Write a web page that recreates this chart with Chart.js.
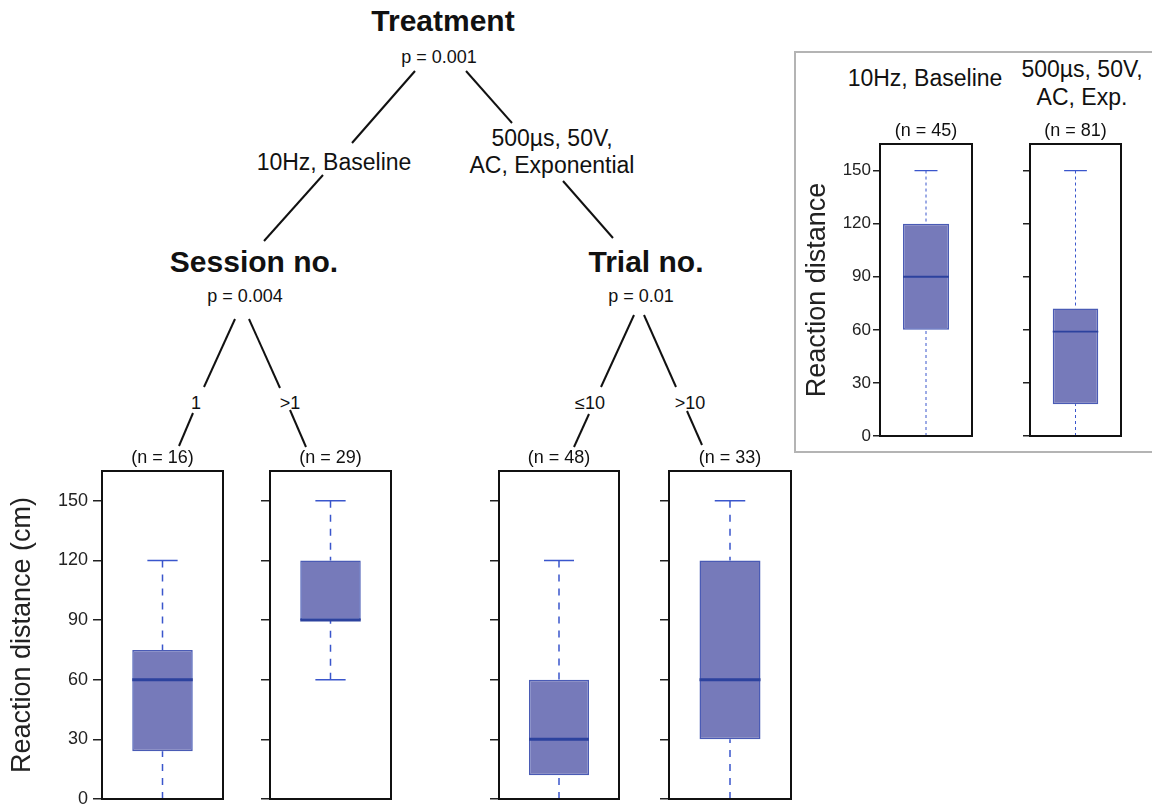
<!DOCTYPE html>
<html>
<head>
<meta charset="utf-8">
<script src="https://cdn.jsdelivr.net/npm/chart.js@4.4.1/dist/chart.umd.min.js"></script>
<style>
  body { margin: 0; background: #fff; font-family: "Liberation Sans", Arial, sans-serif; }
  #page { position: relative; width: 1152px; height: 805px; overflow: hidden; background: #fff; }
  .panel { position: absolute; }
  .lbl { position: absolute; transform: translate(-50%, -50%); white-space: nowrap; line-height: 1; color: #111; text-align: center; }
  .big { font-size: 30px; font-weight: bold; }
  .mid { font-size: 23px; }
  .sm { font-size: 18px; }
  #inset { position: absolute; left: 794px; top: 51px; width: 380px; height: 402px; border: 2px solid #b4b4b4; box-sizing: border-box; }
  svg { position: absolute; left: 0; top: 0; }
</style>
</head>
<body>
<div id="page">
  <div id="inset"></div>

  <svg width="1152" height="805" stroke="#111" stroke-width="2">
    <line x1="415" y1="71" x2="352" y2="143"/>
    <line x1="466" y1="71" x2="512" y2="123"/>
    <line x1="323" y1="175" x2="264" y2="241"/>
    <line x1="563" y1="181" x2="613" y2="238"/>
    <line x1="235" y1="319" x2="204" y2="387"/>
    <line x1="249" y1="319" x2="280" y2="388"/>
    <line x1="193" y1="413" x2="179" y2="446"/>
    <line x1="290" y1="410" x2="306" y2="447"/>
    <line x1="634" y1="315" x2="601" y2="387"/>
    <line x1="644" y1="315" x2="676" y2="387"/>
    <line x1="589" y1="414" x2="574" y2="447"/>
    <line x1="687" y1="411" x2="702" y2="445"/>
  </svg>

  <div class="lbl big" style="left:443px; top:21px;">Treatment</div>
  <div class="lbl sm" style="left:439px; top:57px;">p = 0.001</div>
  <div class="lbl mid" style="left:334px; top:162px;">10Hz, Baseline</div>
  <div class="lbl mid" style="left:552px; top:152px; line-height:27px;">500µs, 50V,<br>AC, Exponential</div>
  <div class="lbl big" style="left:254px; top:262px;">Session no.</div>
  <div class="lbl sm" style="left:245px; top:296px;">p = 0.004</div>
  <div class="lbl big" style="left:646px; top:262px;">Trial no.</div>
  <div class="lbl sm" style="left:641px; top:296px;">p = 0.01</div>
  <div class="lbl sm" style="left:196px; top:403px;">1</div>
  <div class="lbl sm" style="left:290px; top:403px;">&gt;1</div>
  <div class="lbl sm" style="left:590px; top:403px;">≤10</div>
  <div class="lbl sm" style="left:690px; top:403px;">&gt;10</div>
  <div class="lbl mid" style="left:925px; top:78px;">10Hz, Baseline</div>
  <div class="lbl mid" style="left:1082px; top:83px; line-height:28px;">500µs, 50V,<br>AC, Exp.</div>

  <div class="panel" style="left:6px; top:447px; width:229px; height:364px;"><canvas id="p0"></canvas></div>
  <div class="panel" style="left:258px; top:447px; width:145px; height:364px;"><canvas id="p1"></canvas></div>
  <div class="panel" style="left:487px; top:447px; width:144px; height:364px;"><canvas id="p2"></canvas></div>
  <div class="panel" style="left:657px; top:447px; width:146px; height:364px;"><canvas id="p3"></canvas></div>
  <div class="panel" style="left:801px; top:120px; width:183px; height:328px;"><canvas id="p4"></canvas></div>
  <div class="panel" style="left:1018px; top:120px; width:115px; height:328px;"><canvas id="p5"></canvas></div>
</div>

<script>
// one entry per box: 4 tree leaves, then the 2 inset boxes
const groupLabels = ["(n = 16)", "(n = 29)", "(n = 48)", "(n = 33)", "(n = 45)", "(n = 81)"];
const whiskerLow = [0, 60, 0, 0, 0, 0];
const quartile1 = [24, 90, 12, 30, 60, 18];
const medians = [60, 90, 30, 60, 90, 59];
const quartile3 = [75, 120, 60, 120, 120, 72];
const whiskerHigh = [120, 150, 120, 150, 150, 150];
const yTicks = [0, 30, 60, 90, 120, 150];
const yMax = 165;

const boxFill = "#767aba";
const boxEdge = "#4a5bb5";
const medianColor = "#2c429e";
const whiskerColor = "#3a56cc";

const boxWhisker = {
  id: "boxWhisker",
  afterDatasetsDraw(chart, args, opts) {
    const i = opts.index;
    const bar = chart.getDatasetMeta(0).data[0];
    const y = chart.scales.y;
    const ctx = chart.ctx;
    const x = bar.x;
    const half = bar.width / 2;
    const cap = half * opts.cap;

    ctx.save();
    ctx.strokeStyle = whiskerColor;
    ctx.lineWidth = opts.whiskerWidth;
    ctx.setLineDash(opts.dash);
    ctx.beginPath();
    ctx.moveTo(x, y.getPixelForValue(whiskerHigh[i]));
    ctx.lineTo(x, y.getPixelForValue(quartile3[i]));
    ctx.moveTo(x, y.getPixelForValue(whiskerLow[i]));
    ctx.lineTo(x, y.getPixelForValue(quartile1[i]));
    ctx.stroke();

    ctx.setLineDash([]);
    ctx.lineWidth = opts.capWidth;
    ctx.beginPath();
    [whiskerHigh[i], whiskerLow[i]].forEach(v => {
      const py = y.getPixelForValue(v);
      ctx.moveTo(x - cap, py);
      ctx.lineTo(x + cap, py);
    });
    ctx.stroke();

    ctx.strokeStyle = medianColor;
    ctx.lineWidth = opts.medianWidth;
    const my = y.getPixelForValue(medians[i]);
    ctx.beginPath();
    ctx.moveTo(x - half, my);
    ctx.lineTo(x + half, my);
    ctx.stroke();
    ctx.restore();
  },
  afterDraw(chart) {
    // black frame round each panel
    const a = chart.chartArea;
    const ctx = chart.ctx;
    ctx.save();
    ctx.strokeStyle = "#111";
    ctx.lineWidth = 2;
    ctx.strokeRect(a.left, a.top, a.right - a.left, a.bottom - a.top);
    ctx.restore();
  }
};

function makePanel(i, cfg) {
  const ctx = document.getElementById("p" + i);
  const inset = cfg.inset;
  return new Chart(ctx, {
    type: "bar",
    data: {
      labels: [groupLabels[i]],
      datasets: [{
        data: [[quartile1[i], quartile3[i]]],
        backgroundColor: boxFill,
        borderColor: boxEdge,
        borderWidth: 1.5,
        borderSkipped: false,
        categoryPercentage: 1,
        barPercentage: 0.5
      }]
    },
    options: {
      responsive: true,
      maintainAspectRatio: false,
      animation: false,
      layout: { padding: { top: 0, right: 12, bottom: 12, left: 0 } },
      plugins: {
        legend: { display: false },
        tooltip: { enabled: false },
        title: {
          display: true,
          text: groupLabels[i],
          fullSize: false,
          color: "#111",
          font: { family: "Liberation Sans, Arial", size: 18, weight: "normal", lineHeight: 1.2 },
          padding: { top: 0, bottom: 2.4 }
        },
        boxWhisker: {
          index: i,
          cap: 0.5,
          dash: inset ? [3, 3] : [7, 7],
          whiskerWidth: inset ? 1 : 1.5,
          capWidth: inset ? 1.2 : 1.5,
          medianWidth: inset ? 1.8 : 3
        }
      },
      scales: {
        x: { display: false },
        y: {
          min: 0,
          max: yMax,
          afterBuildTicks: axis => { axis.ticks = yTicks.map(v => ({ value: v })); },
          afterFit: axis => {
            axis.width = cfg.axisW;
            axis.paddingTop = 0;
            axis.paddingBottom = 0;
          },
          border: { display: false },
          grid: {
            drawOnChartArea: false,
            drawTicks: true,
            tickLength: inset ? 7 : 9,
            color: "#222",
            lineWidth: 1.5
          },
          ticks: {
            display: cfg.labels,
            color: "#222",
            padding: inset ? 2 : 5,
            font: { family: "Liberation Sans, Arial", size: inset ? 17 : 18 }
          },
          title: {
            display: cfg.labels,
            text: inset ? "Reaction distance" : "Reaction distance (cm)",
            color: "#222",
            padding: 0,
            font: { family: "Liberation Sans, Arial", size: 27, lineHeight: 1.2 }
          }
        }
      }
    },
    plugins: [boxWhisker]
  });
}

makePanel(0, { axisW: 96, labels: true, inset: false });
makePanel(1, { axisW: 12, labels: false, inset: false });
makePanel(2, { axisW: 12, labels: false, inset: false });
makePanel(3, { axisW: 12, labels: false, inset: false });
makePanel(4, { axisW: 79, labels: true, inset: true });
makePanel(5, { axisW: 12, labels: false, inset: true });
</script>
</body>
</html>
